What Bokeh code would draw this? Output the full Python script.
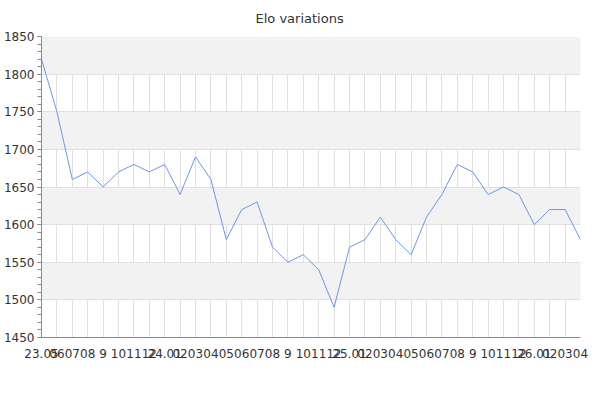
from bokeh.plotting import figure
from bokeh.models import Range1d, FixedTicker, Title
from bokeh.embed import file_html
from bokeh.resources import INLINE

title_text = "Elo variations"
x_labels = ["23.05", "06", "07", "08", "9", "10", "11", "12",
            "24.01", "02", "03", "04", "05", "06", "07", "08", "9", "10", "11", "12",
            "25.01", "02", "03", "04", "05", "06", "07", "08", "9", "10", "11", "12",
            "26.01", "02", "03", "04"]
elo = [1820, 1750, 1660, 1670, 1650, 1670, 1680, 1670,
       1680, 1640, 1690, 1660, 1580, 1620, 1630, 1570, 1550, 1560, 1540, 1490,
       1570, 1580, 1610, 1580, 1560, 1610, 1640, 1680, 1670, 1640, 1650, 1640,
       1600, 1620, 1620, 1580]
y_ticks = [1450, 1500, 1550, 1600, 1650, 1700, 1750, 1800, 1850]

xs = list(range(len(elo)))

FONT = "DejaVu Sans"

p = figure(width=600, height=400, output_backend="svg", toolbar_location=None,
           x_range=Range1d(0, len(elo) - 1), y_range=Range1d(1450, 1850),
           min_border_left=41, min_border_right=20, min_border_top=36,
           min_border_bottom=63,
           title=Title(text=title_text, align="left", offset=214, standoff=18,
                       vertical_align="top",
                       text_font=FONT, text_font_size="13px",
                       text_font_style="normal", text_color="#333333"))
p.outline_line_color = None
p.background_fill_color = "white"

p.line(xs, elo, line_color="#6a96ec", line_width=1)

# y axis
p.yaxis.ticker = FixedTicker(ticks=y_ticks, minor_ticks=list(range(1450, 1851, 10)))
p.yaxis.major_label_text_font = FONT
p.yaxis.major_label_text_font_size = "12px"
p.yaxis.major_label_text_color = "#333333"
p.yaxis.major_label_standoff = 3
p.yaxis.major_tick_out = 4
p.yaxis.major_tick_in = 0
p.yaxis.minor_tick_out = 4
p.yaxis.minor_tick_in = 0
p.yaxis.axis_line_color = "#8a8a8a"
p.yaxis.major_tick_line_color = "#8a8a8a"
p.yaxis.minor_tick_line_color = "#8a8a8a"

# x axis
p.xaxis.ticker = FixedTicker(ticks=xs)
p.xaxis.major_label_overrides = {i: lab for i, lab in enumerate(x_labels)}
p.xaxis.major_label_text_font = FONT
p.xaxis.major_label_text_font_size = "12px"
p.xaxis.major_label_text_color = "#333333"
p.xaxis.major_label_standoff = 5
p.xaxis.major_tick_line_color = None
p.xaxis.minor_tick_line_color = None
p.xaxis.axis_line_color = "#8a8a8a"

# grids
p.xgrid.ticker = FixedTicker(ticks=xs)
p.xgrid.grid_line_color = "#e0e0e0"
p.ygrid.ticker = FixedTicker(ticks=y_ticks)
p.ygrid.grid_line_color = "#e0e0e0"
p.ygrid.band_fill_color = "#f2f2f2"
p.ygrid.band_fill_alpha = 1.0

open("out.html", "w").write(file_html(p, INLINE))
